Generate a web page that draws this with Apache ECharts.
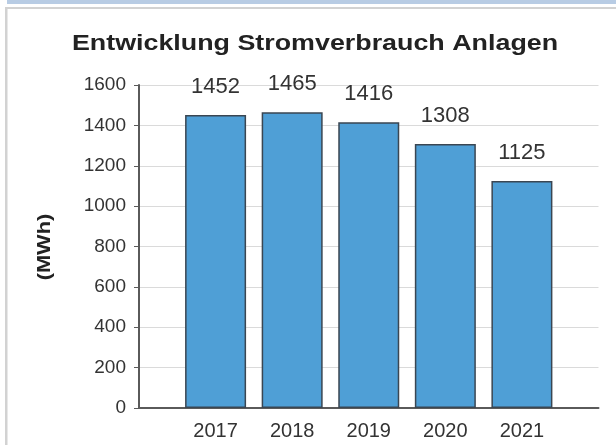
<!DOCTYPE html>
<html>
<head>
<meta charset="utf-8">
<style>
  html, body { margin: 0; padding: 0; background: #ffffff; }
  #chart { width: 616px; height: 445px; }
</style>
<script src="https://cdn.jsdelivr.net/npm/echarts@6/dist/echarts.min.js"></script>
</head>
<body>
<div id="chart"></div>
<script>
// Jahre und Stromverbrauch (MWh)
const years = ['2017', '2018', '2019', '2020', '2021'];
const consumption = [1452, 1465, 1416, 1308, 1125];
const yTicks = [0, 200, 400, 600, 800, 1000, 1200, 1400, 1600];

const titleText = 'Entwicklung Stromverbrauch Anlagen';
const unitText = '(MWh)';

// Leere Randkategorien links und rechts, damit die Achse über die Balken hinausreicht
const axisCats = ['2016'].concat(years, ['2022']);
const seriesData = [null].concat(consumption, [null]);

const chart = echarts.init(document.getElementById('chart'), null, { renderer: 'canvas' });

chart.setOption({
  animation: false,
  backgroundColor: '#ffffff',
  grid: { left: 139, right: 17.5, top: 85, bottom: 37, containLabel: false },
  xAxis: {
    type: 'category',
    data: axisCats,
    boundaryGap: false,
    axisLine: { lineStyle: { color: '#5a5a5a', width: 2 } },
    axisTick: { show: false },
    splitLine: { show: false },
    axisLabel: {
      margin: 13,
      fontFamily: 'Liberation Sans',
      fontSize: 20,
      color: '#333333',
      formatter: function (v) { return years.indexOf(v) >= 0 ? v : ''; }
    }
  },
  yAxis: {
    type: 'value',
    min: yTicks[0],
    max: yTicks[yTicks.length - 1],
    interval: 200,
    axisLine: { show: true, lineStyle: { color: '#5a5a5a', width: 2 } },
    axisTick: { show: true, length: 5, lineStyle: { color: '#5a5a5a', width: 1 } },
    splitLine: { show: true, lineStyle: { color: '#dadada', width: 1 } },
    axisLabel: {
      margin: 13,
      fontFamily: 'Liberation Sans',
      fontSize: 19,
      color: '#333333',
      formatter: function (v) { return String(v); }
    }
  },
  series: [{
    type: 'bar',
    data: seriesData,
    barWidth: 61,
    itemStyle: { color: '#4f9fd6', borderColor: '#3a4652', borderWidth: 1.5 },
    label: {
      show: true,
      position: 'top',
      distance: 17,
      fontFamily: 'Liberation Sans',
      fontSize: 22,
      color: '#333333'
    }
  }],
  graphic: [
    // Rahmen oben und links
    { type: 'rect', shape: { x: 7, y: 0, width: 609, height: 4 }, style: { fill: '#b8cce4' }, silent: true },
    { type: 'rect', shape: { x: 5, y: 7, width: 611, height: 2 }, style: { fill: '#d2d2d2' }, silent: true },
    { type: 'rect', shape: { x: 5, y: 7, width: 2.5, height: 438 }, style: { fill: '#d2d2d2' }, silent: true },
    // Titel
    {
      type: 'text',
      x: 315, y: 44,
      scaleX: 1.22,
      style: {
        text: titleText,
        fontFamily: 'Liberation Sans',
        fontWeight: 'bold',
        fontSize: 22,
        fill: '#222222',
        align: 'center',
        verticalAlign: 'middle'
      },
      silent: true
    },
    // Einheit der y-Achse
    {
      type: 'text',
      x: 45, y: 247,
      rotation: Math.PI / 2,
      scaleX: 1.15,
      style: {
        text: unitText,
        fontFamily: 'Liberation Sans',
        fontWeight: 'bold',
        fontSize: 19,
        fill: '#222222',
        align: 'center',
        verticalAlign: 'middle'
      },
      silent: true
    }
  ]
});
</script>
</body>
</html>
